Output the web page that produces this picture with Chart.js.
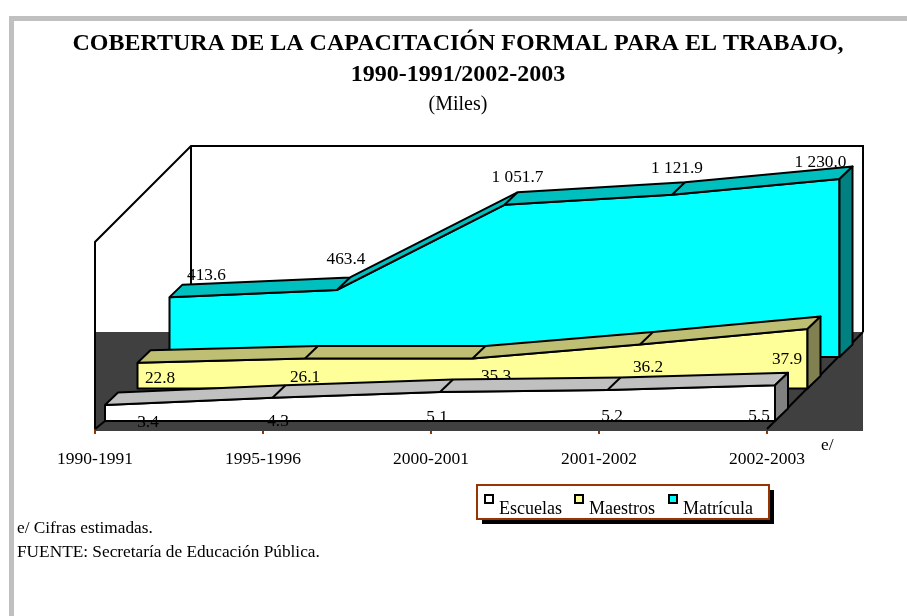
<!DOCTYPE html>
<html>
<head>
<meta charset="utf-8">
<script src="https://cdn.jsdelivr.net/npm/chart.js@4/dist/chart.umd.js"></script>
<style>
  html, body { margin: 0; padding: 0; background: #fff; }
  canvas { display: block; }
</style>
</head>
<body>
<canvas id="grafica" width="907" height="616"></canvas>
<script>
const periodos = ['1990-1991', '1995-1996', '2000-2001', '2001-2002', '2002-2003'];

// alturas; en la original solo Matricula va a escala con su etiqueta
const escuelas = [110, 161, 200, 214, 247];
const maestros = [178, 207, 207, 304, 411];
const matricula = [413.6, 463.4, 1051.7, 1121.9, 1230.0];

const etiquetasEscuelas = ['3.4', '4.3', '5.1', '5.2', '5.5'];
const etiquetasMaestros = ['22.8', '26.1', '35.3', '36.2', '37.9'];
const etiquetasMatricula = ['413.6', '463.4', '1 051.7', '1 121.9', '1 230.0'];

const FUENTE = '"Liberation Serif", "Times New Roman", serif';
const TEXTO = '17.3px ' + FUENTE;

// plano de cada serie, del frente hacia atras
const planos = [
    {left: 105, base: 421, lateral: '#808080', techo: '#C0C0C0', etiquetas: etiquetasEscuelas,
        desp: [[43, 17], [5.5, 24], [-3, 25], [4.5, 26], [-16, 31]]},
    {left: 137.5, base: 388.5, lateral: '#808050', techo: '#BFBF73', etiquetas: etiquetasMaestros,
        desp: [[22.5, 16], [0, 19], [23.5, 18], [8, 23], [-20.5, 30]]},
    {left: 169.5, base: 357, lateral: '#008080', techo: '#00BFBF', etiquetas: etiquetasMatricula,
        desp: [[37, -22], [9, -30], [13, -27], [5, -26], [-19, -17]]}
];
const ANCHO_SERIE = 670;
const PX_POR_UNIDAD = 0.1447;
const Y_MAX = 1300;

function colocar(escala, caja) {
    Object.assign(escala, caja);
    escala.width = caja.right - caja.left;
    escala.height = caja.bottom - caja.top;
    escala.configure();
}

function linea(ctx, puntos, cerrar, relleno) {
    ctx.beginPath();
    puntos.forEach((p, i) => i ? ctx.lineTo(p[0], p[1]) : ctx.moveTo(p[0], p[1]));
    if (cerrar) ctx.closePath();
    if (relleno) { ctx.fillStyle = relleno; ctx.fill(); }
    ctx.stroke();
}

const escena3d = {
    id: 'escena3d',
    afterLayout(chart) {
        const s = chart.scales;
        planos.forEach((p, i) => {
            colocar(s['x' + i], {left: p.left, right: p.left + ANCHO_SERIE, top: 429, bottom: 460});
            colocar(s['y' + i], {left: 0, right: 50, top: p.base - Y_MAX * PX_POR_UNIDAD, bottom: p.base});
        });
        colocar(s.x, {left: 95, right: 767, top: 430, bottom: 470});
        chart.chartArea = {left: 0, right: 907, top: 100, bottom: 470, width: 907, height: 370};
    },
    beforeDatasetsDraw(chart) {
        const ctx = chart.ctx;
        ctx.save();
        // piso oscuro y paredes
        ctx.fillStyle = '#404040';
        ctx.fillRect(95, 332, 768, 99);
        ctx.strokeStyle = '#000';
        ctx.lineWidth = 2;
        linea(ctx, [[95, 429], [95, 242], [191, 146], [863, 146], [863, 332]]);
        linea(ctx, [[191, 146], [191, 332]]);
        linea(ctx, [[767, 429], [863, 332]]);
        linea(ctx, [[95, 429], [105, 421]]);
        ctx.restore();
    },
    afterDatasetDraw(chart, args) {
        const i = args.index;
        const p = planos[i];
        const ctx = chart.ctx;
        const pts = args.meta.data.map(e => [e.x, e.y]);
        const ult = pts[pts.length - 1];
        const prof = q => [q[0] + 13, q[1] - 12.5];
        ctx.save();
        ctx.strokeStyle = '#000';
        ctx.lineWidth = 2;
        ctx.lineJoin = 'round';
        // cara frontal: lados y base
        linea(ctx, [[p.left, pts[0][1]], [p.left, p.base], [ult[0], p.base], [ult[0], ult[1]]]);
        // etiquetas antes del techo, en la original quedan tapadas en parte
        ctx.fillStyle = '#000';
        ctx.font = TEXTO;
        ctx.textAlign = 'center';
        ctx.textBaseline = 'middle';
        p.etiquetas.forEach((t, k) => ctx.fillText(t, pts[k][0] + p.desp[k][0], pts[k][1] + p.desp[k][1]));
        // techo
        linea(ctx, pts.concat(pts.map(prof).reverse()), true, p.techo);
        pts.slice(1, -1).forEach(q => linea(ctx, [q, prof(q)]));
        // cara lateral derecha
        const b = [ult[0], p.base];
        linea(ctx, [ult, prof(ult), prof(b), b], true, p.lateral);
        ctx.restore();
    },
    afterDraw(chart) {
        const ctx = chart.ctx;
        ctx.save();
        // marco gris de la hoja
        ctx.fillStyle = '#C0C0C0';
        ctx.fillRect(9, 16, 898, 5);
        ctx.fillRect(9, 16, 5, 600);
        // textos sueltos
        ctx.fillStyle = '#000';
        ctx.font = TEXTO;
        ctx.textBaseline = 'middle';
        ctx.textAlign = 'left';
        ctx.fillText('e/', 821, 445);
        ctx.fillText('e/ Cifras estimadas.', 17, 528);
        ctx.fillText('FUENTE: Secretaría de Educación Pública.', 17, 552);
        // leyenda
        ctx.fillStyle = '#000';
        ctx.fillRect(482, 490, 292, 34);
        ctx.fillStyle = '#fff';
        ctx.strokeStyle = '#993300';
        ctx.lineWidth = 2;
        ctx.fillRect(477, 485, 292, 34);
        ctx.strokeRect(477, 485, 292, 34);
        chart.data.datasets.forEach((d, i) => {
            const x = [485, 575, 669][i];
            ctx.fillStyle = d.backgroundColor;
            ctx.strokeStyle = '#000';
            ctx.lineWidth = 2;
            ctx.fillRect(x, 495, 8, 8);
            ctx.strokeRect(x, 495, 8, 8);
            ctx.fillStyle = '#000';
            ctx.font = '18px ' + FUENTE;
            ctx.fillText(d.label, x + 14, 509);
        });
        ctx.restore();
    }
};

function serie(nombre, datos, color, i) {
    return {
        label: nombre,
        data: datos,
        xAxisID: 'x' + i,
        yAxisID: 'y' + i,
        backgroundColor: color,
        borderColor: '#000',
        borderWidth: 2,
        pointRadius: 0,
        tension: 0,
        fill: 'origin',
        clip: false
    };
}

const ejesSerie = {};
planos.forEach((p, i) => {
    ejesSerie['x' + i] = {type: 'category', labels: periodos, display: false, offset: false};
    ejesSerie['y' + i] = {type: 'linear', min: 0, max: Y_MAX, display: false};
});

new Chart(document.getElementById('grafica').getContext('2d'), {
    type: 'line',
    data: {
        labels: periodos,
        datasets: [
            serie('Escuelas', escuelas, '#FFFFFF', 0),
            serie('Maestros', maestros, '#FFFF99', 1),
            serie('Matrícula', matricula, '#00FFFF', 2)
        ]
    },
    options: {
        responsive: false,
        animation: false,
        layout: {padding: {left: 9}},
        plugins: {
            legend: {display: false},
            tooltip: {enabled: false},
            title: {
                display: true,
                text: ['COBERTURA DE LA CAPACITACIÓN FORMAL PARA EL TRABAJO,', '1990-1991/2002-2003'],
                color: '#000',
                font: {family: FUENTE, size: 24, weight: 'bold', lineHeight: 1.3},
                padding: {top: 28, bottom: 2}
            },
            subtitle: {
                display: true,
                text: '(Miles)',
                color: '#000',
                font: {family: FUENTE, size: 20},
                padding: {top: 0, bottom: 0}
            }
        },
        scales: {
            x: {
                type: 'category',
                labels: periodos,
                position: 'bottom',
                offset: false,
                border: {color: '#993300', width: 2},
                grid: {drawOnChartArea: false, drawTicks: true, tickLength: 4, color: '#993300', lineWidth: 2},
                ticks: {
                    color: '#000',
                    font: {family: FUENTE, size: 17.5},
                    padding: 15,
                    maxRotation: 0,
                    minRotation: 0,
                    autoSkip: false
                }
            },
            ...ejesSerie
        }
    },
    plugins: [escena3d]
});
</script>
</body>
</html>
